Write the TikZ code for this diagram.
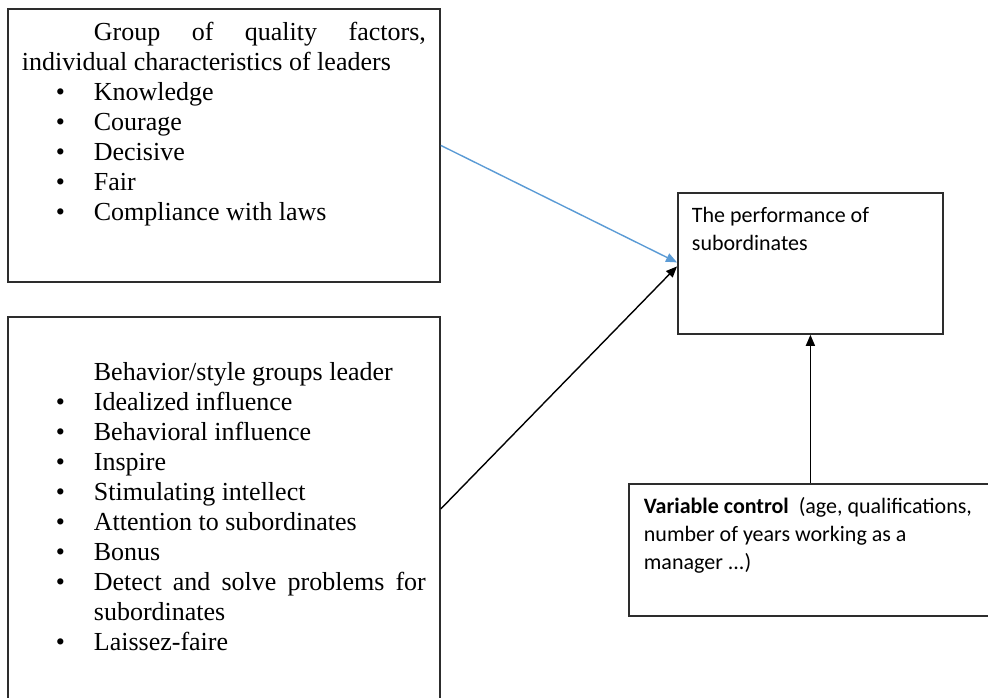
\documentclass[tikz,border=0pt]{standalone}
\usepackage{fontspec}
\setmainfont{Liberation Serif}
\newfontfamily\calfont{Carlito}
\usepackage{tikz}
\usetikzlibrary{arrows.meta, positioning}
\definecolor{myblue}{RGB}{91,155,213}
\definecolor{mydark}{RGB}{45,45,45}
\newcommand{\bitem}[1]{\par\noindent\hangindent=36pt\hangafter=1\makebox[36pt][l]{\hspace{17pt}\textbullet}#1}
\tikzset{
  listbox/.style={rectangle, draw=mydark, line width=0.9pt, anchor=north west,
    inner xsep=7pt, inner ysep=6.5pt, font=\fontsize{13}{15}\selectfont},
  notebox/.style={rectangle, draw=mydark, line width=0.9pt, anchor=north west,
    inner xsep=7.5pt, inner ysep=7pt, font=\calfont\fontsize{11}{14}\selectfont},
  arrow/.style={-{Triangle[length=5.5pt,width=4.5pt]}, line width=0.7pt, color=black},
  bluearrow/.style={-{Triangle[length=5.5pt,width=4.5pt]}, line width=0.7pt, color=myblue}
}
\begin{document}
\begin{tikzpicture}[x=0.5pt, y=-0.5pt]
  \useasboundingbox (0,0) rectangle (988,697);
  \node[listbox] (qual) at (7,8) {\parbox[t][123.5pt][t]{202pt}{\parindent=36pt\hyphenpenalty=10000
    Group of quality factors, individual characteristics of leaders
    \bitem{Knowledge}
    \bitem{Courage}
    \bitem{Decisive}
    \bitem{Fair}
    \bitem{Compliance with laws}}};
  \node[listbox] (style) at (7,316) {\parbox[t][179pt][t]{202pt}{\parindent=36pt\hyphenpenalty=10000
    \strut\par
    Behavior/style groups leader
    \bitem{Idealized influence}
    \bitem{Behavioral influence}
    \bitem{Inspire}
    \bitem{Stimulating intellect}
    \bitem{Attention to subordinates}
    \bitem{Bonus}
    \bitem{Detect and solve problems for subordinates}
    \bitem{Laissez-faire}}};
  \node[notebox, inner xsep=7pt] (perf) at (677,192) {\parbox[t][56.5pt][t]{118.5pt}{\raggedright
    The performance of\\ subordinates}};
  \node[notebox] (ctrl) at (628,483) {\parbox[t][52pt][t]{166.5pt}{\raggedright
    \mbox{\textbf{Variable control}~ (age, qualifications,}\\
    \mbox{number of years working as a}\\
    \mbox{manager ...)}}};
  \draw[bluearrow] (qual.east) -- ([yshift=0.5pt]perf.west);
  \draw[arrow] (style.east) -- ([yshift=-1.5pt]perf.west);
  \draw[arrow] (ctrl.north) -- (perf.south);
\end{tikzpicture}
\end{document}
